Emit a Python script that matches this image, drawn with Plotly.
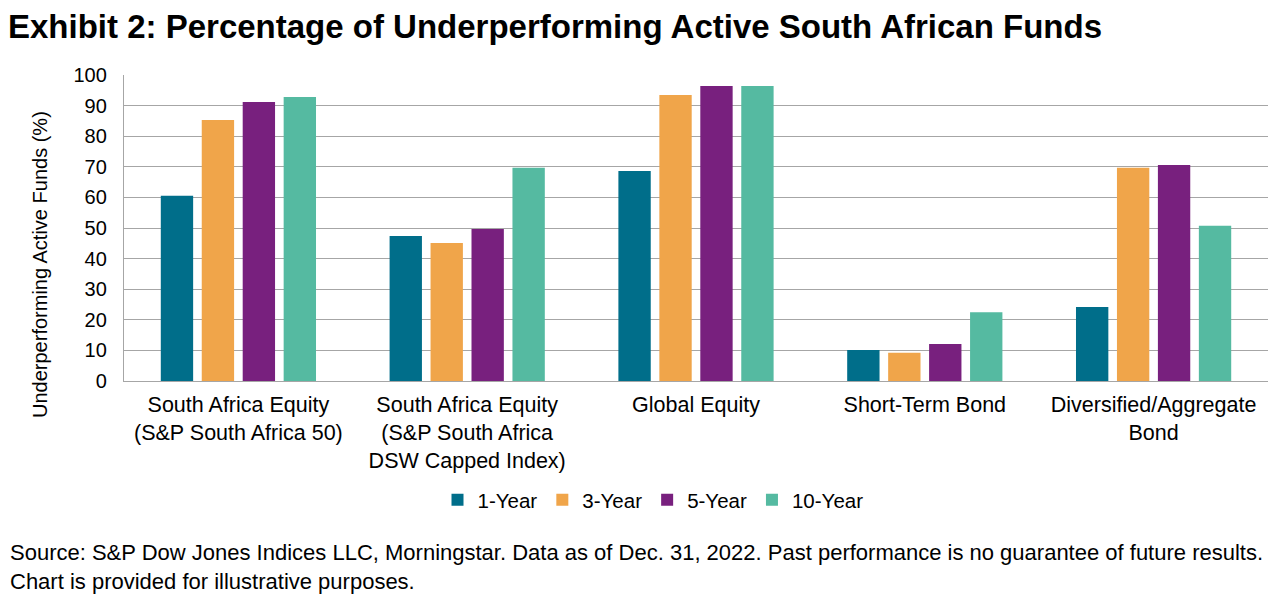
import plotly.graph_objects as go

categories = [
    "South Africa Equity<br>(S&P South Africa 50)",
    "South Africa Equity<br>(S&P South Africa<br>DSW Capped Index)",
    "Global Equity",
    "Short-Term Bond",
    "Diversified/Aggregate<br>Bond",
]
series_names = ["1-Year", "3-Year", "5-Year", "10-Year"]
one_year = [60.5, 47.4, 68.6, 10.1, 24.2]
three_year = [85.3, 45.1, 93.5, 9.2, 69.7]
five_year = [91.2, 49.7, 96.4, 12.1, 70.6]
ten_year = [92.8, 69.7, 96.4, 22.5, 50.7]
colors = ["#006E8A", "#F0A54A", "#78207E", "#55BAA1"]

values = [one_year, three_year, five_year, ten_year]

W, H = 1268, 590
L, R, T, B = 116, 8, 67, 217
PW, PH = W - L - R, H - T - B

fig = go.Figure()
for name, vals, col in zip(series_names, values, colors):
    fig.add_trace(go.Bar(x=categories, y=vals, name=name, marker_color=col,
                         marker_line_width=0))

font_family = "Liberation Sans, Arial, sans-serif"
fig.update_layout(
    width=W, height=H,
    paper_bgcolor="white", plot_bgcolor="white",
    margin=dict(l=L, r=R, t=T, b=B, autoexpand=False),
    barmode="group", bargap=0.284, bargroupgap=0.21,
    font=dict(family=font_family, size=20, color="black"),
    title=dict(text="<b>Exhibit 2: Percentage of Underperforming Active South African Funds</b>",
               x=0, xanchor="left", xref="container", y=1 - 18 / H, yanchor="middle",
               pad=dict(l=0),
               font=dict(size=33, family=font_family, color="black")),
    legend=dict(orientation="h", x=(645 - L) / PW, xanchor="center",
                y=-(492 - (T + PH)) / PH,
                yanchor="middle", font=dict(size=20.5), traceorder="normal", itemwidth=30),
    showlegend=True,
)

fig.update_yaxes(range=[0, 100], dtick=10, showgrid=True, gridcolor="#A6A6A6", gridwidth=1.3,
                 showline=True, linecolor="#A6A6A6", linewidth=1.3, ticks="",
                 tickfont=dict(size=20), zeroline=False, ticklabelstandoff=12,
                 automargin=False)
fig.update_xaxes(showline=True, linecolor="#A6A6A6", linewidth=1.3, ticks="",
                 tickfont=dict(size=21.5), ticklabelstandoff=4, automargin=False,
                 tickangle=0)

# y-axis title
fig.add_annotation(
    text="Underperforming Active Funds (%)", textangle=-90,
    xref="paper", yref="paper", x=(32 - L) / PW, y=(T + PH - 257) / PH,
    xanchor="center", yanchor="middle", showarrow=False,
    font=dict(size=20, family=font_family, color="black"),
)

fig.add_annotation(
    text="Source: S&P Dow Jones Indices LLC, Morningstar. Data as of Dec. 31, 2022. Past performance is no guarantee of future results.<br>Chart is provided for illustrative purposes.",
    xref="paper", yref="paper", x=(0 - L) / PW, y=(T + PH - 559) / PH,
    showarrow=False, align="left",
    xanchor="left", yanchor="middle", font=dict(size=22, family=font_family, color="black"),
)

fig.write_html("out.html")
